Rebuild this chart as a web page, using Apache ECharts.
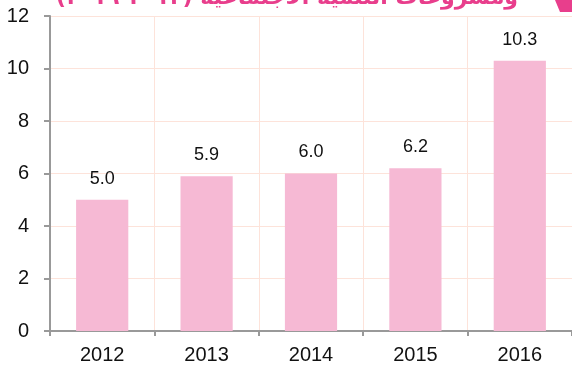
<!DOCTYPE html>
<html>
<head>
<meta charset="utf-8">
<script src="https://cdn.jsdelivr.net/npm/echarts@6/dist/echarts.min.js"></script>
<style>
  html, body { margin: 0; padding: 0; background: #fff; }
  #chart { width: 572px; height: 366px; }
</style>
</head>
<body>
<div id="chart"></div>
<script>
// Years shown on the category axis
const years = ['2012', '2013', '2014', '2015', '2016'];
// Values per year
const values = [5.0, 5.9, 6.0, 6.2, 10.3];
// Value axis ticks
const yTicks = [0, 2, 4, 6, 8, 10, 12];
const titleText = 'ومشروعات التنمية الاجتماعية (٢٠١٢-٢٠١٦)';

const labelFont = '"Liberation Sans", Arial, sans-serif';

const chart = echarts.init(document.getElementById('chart'));
chart.setOption({
  animation: false,
  grid: { left: 50, right: 0, top: 16, bottom: 35 },
  xAxis: {
    type: 'category',
    data: years,
    axisLine: { lineStyle: { color: '#999', width: 2 } },
    axisTick: { show: true, length: 5, lineStyle: { color: '#999', width: 2 } },
    axisLabel: { color: '#111', fontSize: 20, fontFamily: labelFont, margin: 14 },
    splitLine: { show: true, lineStyle: { color: '#fde3da', width: 1 } }
  },
  yAxis: {
    type: 'value',
    min: yTicks[0],
    max: yTicks[yTicks.length - 1],
    interval: 2,
    axisLine: { show: true, lineStyle: { color: '#999', width: 2 } },
    axisTick: { show: true, length: 6, lineStyle: { color: '#999', width: 2 } },
    axisLabel: { color: '#111', fontSize: 20, fontFamily: labelFont, margin: 21 },
    splitLine: { show: true, lineStyle: { color: '#fde3da', width: 1 } }
  },
  series: [{
    type: 'bar',
    data: values,
    barWidth: '50%',
    itemStyle: { color: '#f6b9d4' },
    label: {
      show: true,
      position: 'top',
      distance: 12,
      color: '#111',
      fontSize: 18,
      fontFamily: labelFont,
      formatter: p => p.value.toFixed(1)
    }
  }],
  graphic: [
    {
      type: 'text',
      right: 54,
      top: -13,
      style: {
        text: titleText,
        fill: '#e83e8c',
        font: 'bold 22px "DejaVu Sans"'
      }
    },
    {
      type: 'polygon',
      shape: { points: [[555, 0], [572, 0], [572, 12], [560, 12]] },
      style: { fill: '#e83e8c' }
    }
  ]
});
</script>
</body>
</html>
